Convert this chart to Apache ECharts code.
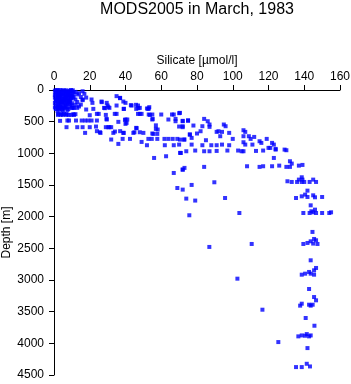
<!DOCTYPE html>
<html>
<head>
<meta charset="utf-8">
<script src="https://cdn.jsdelivr.net/npm/echarts@6/dist/echarts.min.js"></script>
<style>
  html, body { margin: 0; padding: 0; background: #fff; }
  #chart { width: 351px; height: 384px; }
</style>
</head>
<body>
<div id="chart"></div>
<script>
// 坐标轴刻度
const silicateTicks = [0, 20, 40, 60, 80, 100, 120, 140, 160];
const depthTicks = [0, 500, 1000, 1500, 2000, 2500, 3000, 3500, 4000, 4500];

// 表层密集区 [silicate, depth]
const surfacePoints = [
    [0.5, 10], [1, 30], [2, 5], [3, 20], [4, 40], [5, 10], [6, 25], [7, 5], [8, 35], [9, 15], [10, 20], [11, 40],
    [1.5, 0], [3.5, 0], [5.5, 5], [7.5, 20], [9.5, 0], [2.5, 45], [6.5, 45], [10.5, 5],
    [1, 60], [2, 80], [3, 55], [4, 95], [5, 70], [6, 85], [7, 60], [8, 100], [9, 75], [10, 90], [11, 110],
    [0.5, 75], [2.5, 100], [4.5, 60], [6.5, 105], [8.5, 55], [10.5, 65], [3.5, 80], [7.5, 85], [9.5, 100],
    [0.5, 120], [1.5, 140], [2.5, 115], [3.5, 155], [4.5, 130], [5.5, 160], [6.5, 125], [7.5, 145], [8.5, 170], [9.5, 135],
    [1, 160], [3, 130], [5, 145], [7, 165], [9, 155], [10.5, 125], [2, 120], [6, 140], [8, 120],
    [1, 180], [2, 200], [3, 175], [4, 215], [5, 190], [6, 210], [7, 185], [8, 225], [9, 200], [10, 240],
    [0.5, 205], [2.5, 225], [4.5, 195], [6.5, 230], [8.5, 195], [10, 210], [3.5, 190], [7.5, 205],
    [1, 250], [2, 265], [3, 240], [4, 280], [5, 255], [6, 290], [7, 270], [8, 300], [1, 300], [3, 310], [5, 320], [2, 330],
    [0.5, 275], [2.5, 290], [4.5, 305], [6.5, 255], [9, 265], [10, 285], [7.5, 315], [3.5, 265], [5.5, 275],
    [12, 30], [13, 70], [14, 50], [16, 20], [17, 60], [15, 110], [12, 150], [13, 190], [14, 260], [12, 230], [16, 160], [18, 120], [11, 280],
    [2.2, 393], [3.7, 393], [5, 393], [6.9, 393], [8.2, 393], [9.7, 393], [11.2, 393]
];

// 上层 0-1000 m
const upperPoints = [
    [35, 97], [37, 124], [40, 203], [21, 150], [21.5, 203], [16, 150], [15, 230], [26.7, 192], [29.5, 203], [30, 245],
    [35, 245], [43, 240], [47, 245], [48, 282], [52, 292], [53, 292], [39, 298], [46, 298], [31, 282], [28, 282],
    [22, 298], [18, 308], [13, 282], [11, 282], [2.5, 282],
    [2.4, 377], [4.3, 377], [5.6, 377], [7, 377], [10.8, 382], [12, 382], [20, 398], [24, 377], [25, 377], [29, 393],
    [34, 377], [47, 377], [48, 377], [53, 387], [55, 387], [60, 387], [66, 387], [67, 387], [70, 366],
    [3.4, 487], [7.5, 482], [8.4, 482], [12.3, 482], [15.5, 482], [17.4, 482], [19.2, 482], [21, 482], [24, 482], [29.5, 466],
    [36, 503], [40, 466], [41, 466], [55, 466], [64, 466], [68, 456], [68, 493], [72, 487], [75, 487],
    [7, 587], [13, 587], [16, 587], [20, 587], [23.5, 577], [29, 587], [31, 587], [32, 587], [40, 535], [46, 598],
    [57, 558], [70, 577], [72, 587],
    [17.4, 677], [24, 650], [26, 677], [37, 650], [39, 677], [45, 667], [48, 667], [50, 677], [55, 687], [58, 624], [76, 703],
    [32, 782], [38.4, 772], [42.5, 772], [49, 820], [52.8, 772], [54.7, 772], [57.8, 772], [61.8, 772], [64, 772],
    [66.4, 772], [69, 772], [73, 782], [52, 872], [36, 851], [62, 872], [67, 872], [70, 862],
    [26.6, 182], [28.5, 287], [30.4, 271], [36.9, 129], [38.8, 182], [43.4, 245], [39.1, 298], [35, 377],
    [29.4, 456], [39.7, 472], [40.6, 519], [30.4, 588], [34.1, 656], [45.9, 234], [47.2, 287], [52.7, 298], [53.7, 393],
    [55.2, 456], [46.2, 603], [57, 614], [55.6, 693], [57.8, 693], [49, 377], [53.3, 271], [25.7, 667], [33.2, 677],
    [38.8, 677], [44.4, 677]
];

// 中层 跃层
const middlePoints = [
    [70.5, 361], [72, 493], [75, 477], [72, 572], [78, 561], [84, 456], [86, 493], [83, 572], [87, 545], [87, 582],
    [95, 545], [96, 572], [91, 661], [92, 651], [94, 661], [98, 677], [106, 635], [107, 661], [106, 730], [109, 730],
    [110, 772], [112, 741], [115, 809], [116, 835], [119, 772], [122, 835], [123, 862], [120, 914], [121, 914], [124, 941],
    [124, 930], [129, 941], [130, 951], [123, 1073], [132, 1125], [133, 1162], [137, 1194], [139, 1183], [126, 1194],
    [122, 1204], [117, 1204], [115, 1214], [108, 1204], [130, 1214], [132, 1214],
    [70.5, 993], [74, 967], [79, 956], [84, 967], [87, 967], [91, 962], [97, 956], [103, 956], [105, 967], [106, 967],
    [113, 962], [117, 956],
    [77, 862], [83, 872], [88, 872], [91, 872], [94, 862], [98, 872], [106, 825], [107, 862], [111, 862],
    [70.5, 783], [72.7, 783], [77, 756], [85, 793], [100, 772], [76, 703], [80, 687], [82, 651], [93, 730],
    [56, 1073], [62.7, 1046], [71, 994], [73, 1230], [72, 1257], [67, 1310], [69, 1547], [72, 1573], [74, 1715],
    [79, 1746], [75.7, 1978],
    [72, 1257], [84, 1214], [77, 1499], [89.7, 1457], [95.7, 1705], [103.7, 1942]
];

// 深层
const deepPoints = [
    [130.6, 1441], [133, 1452], [136, 1452], [137, 1415], [138.6, 1378], [139, 1415], [140, 1452], [143, 1452],
    [145, 1415], [146.6, 1452], [138.6, 1452],
    [141.8, 1589], [135.4, 1705], [138.6, 1679], [140.5, 1652], [141.8, 1689], [145, 1663], [146, 1694], [150, 1689],
    [143.6, 1821], [146, 1889], [144, 1915], [139.5, 1942], [143, 1942], [145, 1931], [146.6, 1942], [150, 1942],
    [154, 1942], [155, 1931],
    [144.6, 2241], [139.5, 2431], [141.8, 2415], [143.6, 2389], [145.5, 2352], [146.6, 2373], [145, 2425], [147.4, 2431],
    [86.9, 2478], [110.6, 2431],
    [143.6, 2689], [146.6, 2810], [145.5, 2847], [142.7, 2873], [140.5, 2900], [138.6, 2916], [143.6, 2900],
    [145.5, 2916], [102.6, 2979],
    [142.7, 3142], [145.5, 3269], [146.6, 3321], [138.6, 3374], [137.7, 3405], [142.7, 3390], [143.6, 3405],
    [144.7, 3390], [116.6, 3469],
    [140.8, 3600], [145.7, 3722], [136.7, 3890], [138.6, 3875], [141.4, 3854], [142.7, 3890], [143.6, 3875],
    [140.5, 3880], [125.5, 3980],
    [141.8, 4075], [135.4, 4375], [138.6, 4375], [141.4, 4323], [143.2, 4365]
];

const allPoints = surfacePoints.concat(upperPoints, middlePoints, deepPoints);

const myChart = echarts.init(document.getElementById('chart'), null, { renderer: 'canvas' });

const fontFamily = 'Liberation Sans, Arial, sans-serif';

const option = {
    backgroundColor: '#fff',
    animation: false,
    title: {
        text: 'MODS2005 in March, 1983',
        left: 197,
        top: 2,
        padding: 0,
        textAlign: 'center',
        textStyle: {
            fontFamily: fontFamily,
            fontSize: 16,
            fontWeight: 'normal',
            color: '#000'
        }
    },
    grid: {
        left: 54,
        right: 11,
        top: 90,
        bottom: 9,
        containLabel: false,
        outerBoundsMode: 'none'
    },
    xAxis: {
        type: 'value',
        position: 'top',
        min: silicateTicks[0],
        max: silicateTicks[silicateTicks.length - 1],
        interval: 20,
        name: 'Silicate [µmol/l]',
        nameLocation: 'middle',
        nameGap: 23,
        nameMoveOverlap: false,
        nameTextStyle: { fontFamily: fontFamily, fontSize: 12, color: '#000' },
        axisLine: { lineStyle: { color: '#000', width: 1 } },
        axisTick: { length: 5, lineStyle: { color: '#000' } },
        axisLabel: { fontFamily: fontFamily, fontSize: 12, color: '#000', margin: 7 },
        splitLine: { show: false }
    },
    yAxis: {
        type: 'value',
        inverse: true,
        min: depthTicks[0],
        max: depthTicks[depthTicks.length - 1],
        interval: 500,
        name: 'Depth [m]',
        nameLocation: 'middle',
        nameGap: 41,
        nameMoveOverlap: false,
        nameTextStyle: { fontFamily: fontFamily, fontSize: 12, color: '#000' },
        axisLine: { lineStyle: { color: '#000', width: 1 } },
        axisTick: { length: 5, lineStyle: { color: '#000' } },
        axisLabel: {
            fontFamily: fontFamily,
            fontSize: 12,
            color: '#000',
            margin: 10,
            formatter: function (v) { return String(v); }
        },
        splitLine: { show: false }
    },
    series: [
        {
            name: 'Silicate',
            type: 'scatter',
            symbol: 'rect',
            symbolSize: 4,
            itemStyle: { color: '#0000ff' },
            data: allPoints
        }
    ]
};

myChart.setOption(option);
</script>
</body>
</html>
